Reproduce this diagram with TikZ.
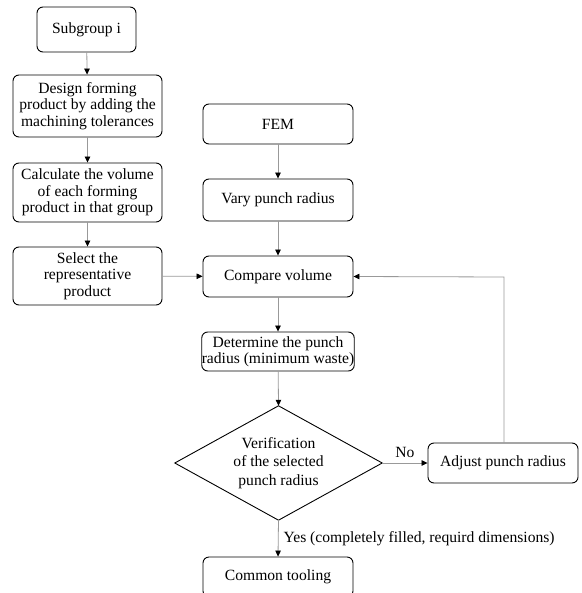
\documentclass[tikz,border=0pt]{standalone}
\usepackage{fontspec}
\setmainfont{Liberation Serif}
\usetikzlibrary{arrows.meta}
\tikzset{
  stepbox/.style={draw=black, line width=0.9pt, rounded corners=6pt, align=center,
    inner xsep=1pt, inner ysep=1pt, font=\fontsize{15.6}{16.5}\selectfont},
  decbox/.style={shape=rectangle, align=center, inner sep=0pt,
    font=\fontsize{15.6}{18.5}\selectfont},
  conn/.style={draw=black!40, line width=0.8pt, -{Triangle[length=6pt,width=5.5pt,color=black]}},
  lbl/.style={font=\fontsize{15.6}{16.5}\selectfont, inner sep=0pt}
}
\begin{document}
\begin{tikzpicture}[x=1pt,y=-1pt]
\useasboundingbox (0,0) rectangle (581,593);
\node[stepbox, minimum width=99pt, minimum height=45pt] (sub) at (86.5,29.5) {Subgroup i};
\node[stepbox, minimum width=149pt, minimum height=62pt] (design) at (87.5,106) {Design forming\\product by adding the\\machining tolerances};
\node[stepbox, minimum width=149pt, minimum height=59pt] (calc) at (87.5,192.5) {Calculate the volume\\of each forming\\product in that group};
\node[stepbox, minimum width=149pt, minimum height=58pt] (select) at (87.5,276) {Select the\\representative\\product};
\node[stepbox, minimum width=150pt, minimum height=40pt] (fem) at (278,124) {FEM};
\node[stepbox, minimum width=150pt, minimum height=42pt] (vary) at (278,200) {Vary punch radius};
\node[stepbox, minimum width=150pt, minimum height=41pt] (compare) at (278,276.5) {Compare volume};
\node[stepbox, inner xsep=0pt, minimum width=150pt, minimum height=39pt] (determine) at (278,351.5) {Determine the punch\\radius (minimum waste)};
\node[decbox, minimum width=207pt, minimum height=114pt] (verify) at (278.5,463) {Verification\\of the selected\\punch radius};
\draw[black, line width=0.9pt] (verify.north) -- (verify.east) -- (verify.south) -- (verify.west) -- cycle;
\node[stepbox, minimum width=150pt, minimum height=40pt] (adjust) at (503,463) {Adjust punch radius};
\node[stepbox, minimum width=150pt, minimum height=40pt] (common) at (278,577) {Common tooling};
\coordinate (bend1) at (504,277);
\draw[conn] (sub) -- (design);
\draw[conn] (design) -- (calc);
\draw[conn] (calc) -- (select);
\draw[conn] (select) -- (compare);
\draw[conn] (fem) -- (vary);
\draw[conn] (vary) -- (compare);
\draw[conn] (compare) -- (determine);
\draw[conn] (determine) -- (verify.north);
\draw[conn] (verify.east) -- node[lbl, above=5pt] {No} (adjust.west);
\draw[conn] (adjust.north -| bend1) -- (bend1) -- (compare.east);
\draw[conn] (verify.south) -- node[lbl, right=5pt, anchor=west] {Yes (completely filled, requird dimensions)} (common.north);
\end{tikzpicture}
\end{document}
